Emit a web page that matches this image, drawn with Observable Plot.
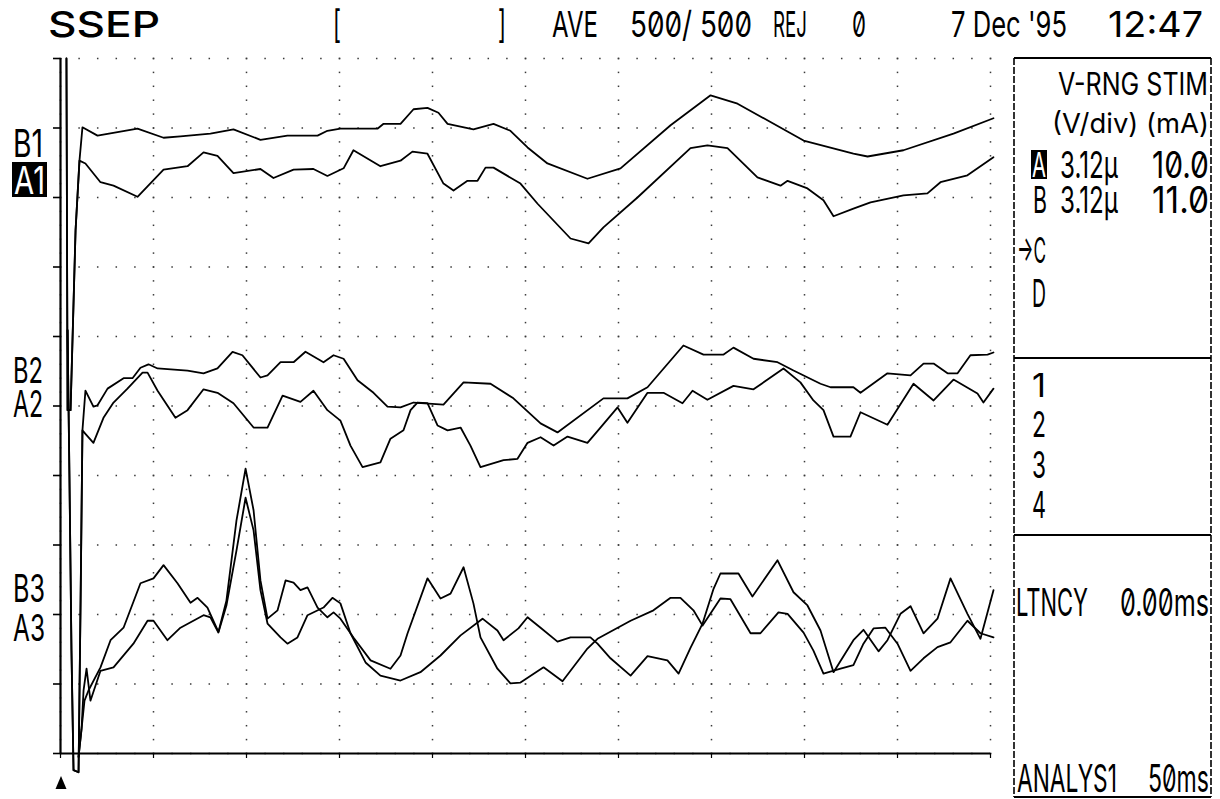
<!DOCTYPE html>
<html><head><meta charset="utf-8">
<script src="https://cdn.jsdelivr.net/npm/d3@7"></script>
<script src="https://cdn.jsdelivr.net/npm/@observablehq/plot@0.6"></script>
<style>
html,body{margin:0;padding:0;background:#fff;}
#chart{position:relative;width:1220px;height:799px;overflow:hidden;}
</style></head><body><div id="chart"></div>
<script>
// Time in ms (5 ms / division, 50 ms sweep); amplitude in display divisions (0 = bottom, 10 = top)
const stim1 = [[0.32,10.0],[0.38,4.94],[0.54,4.94],[0.81,7.53],[1.02,8.53]];
const B1 = [[1.18,9.01],[1.99,8.89],[4.14,8.99],[5.54,8.86],[6.45,8.88],[8.06,8.92],[9.30,8.98],[10.75,8.83],[12.20,8.89],[13.82,8.89],[14.35,8.96],[15.05,8.99],[17.04,8.99],[17.37,9.06],[18.28,9.06],[18.98,9.27],[19.73,9.29],[20.32,9.22],[20.81,9.06],[22.20,8.98],[23.28,9.06],[24.19,8.96],[25.11,8.72],[26.18,8.49],[28.33,8.27],[30.11,8.42],[32.80,9.04],[34.95,9.47],[36.40,9.35],[39.95,8.82],[42.63,8.63],[43.39,8.59],[45.32,8.68],[48.01,8.92],[50.16,9.14]];
const A1 = [[1.34,8.49],[2.15,8.22],[2.85,8.17],[4.14,8.01],[5.54,8.40],[6.83,8.45],[7.69,8.65],[8.44,8.60],[9.30,8.35],[10.75,8.41],[11.45,8.28],[12.53,8.40],[13.60,8.41],[14.35,8.31],[15.22,8.42],[15.75,8.68],[17.20,8.45],[18.28,8.53],[18.92,8.66],[19.73,8.63],[20.59,8.20],[21.13,8.10],[21.88,8.24],[22.42,8.24],[22.85,8.43],[23.28,8.43],[24.73,8.20],[25.65,7.91],[27.42,7.41],[28.39,7.34],[29.19,7.57],[31.02,8.00],[33.87,8.71],[34.78,8.75],[35.86,8.71],[37.47,8.29],[38.71,8.17],[39.09,8.24],[40.16,8.13],[41.02,7.96],[41.56,7.73],[42.63,7.84],[43.55,7.93],[45.32,8.03],[46.61,8.06],[47.31,8.22],[48.76,8.32],[50.16,8.58]];

const stim2 = [[0.38,6.09],[0.48,4.0],[0.59,1.48],[0.70,-0.24],[0.97,-0.27],[1.08,2.2],[1.18,4.65]];
const B2 = [[1.34,5.22],[1.77,4.99],[1.99,5.01],[2.53,5.25],[3.39,5.40],[3.87,5.40],[4.30,5.55],[4.73,5.60],[5.22,5.54],[6.83,5.51],[7.69,5.47],[8.44,5.54],[9.25,5.78],[9.78,5.73],[10.75,5.41],[11.13,5.44],[11.83,5.63],[12.53,5.63],[13.17,5.78],[14.14,5.63],[14.68,5.73],[15.22,5.68],[15.97,5.37],[16.83,5.19],[17.58,4.99],[18.28,4.98],[18.98,5.05],[20.59,5.02],[21.67,5.34],[23.12,5.32],[24.35,5.11],[25.81,4.75],[26.72,4.62],[29.19,5.11],[30.48,5.11],[31.56,5.27],[33.49,5.87],[34.57,5.74],[35.65,5.74],[36.18,5.84],[37.26,5.68],[38.55,5.63],[39.41,5.51],[40.86,5.32],[41.40,5.27],[42.63,5.27],[43.01,5.19],[44.46,5.47],[45.70,5.44],[46.40,5.61],[46.94,5.61],[47.69,5.47],[48.23,5.47],[48.92,5.73],[49.84,5.74],[50.16,5.77]];
const A2 = [[1.34,4.60],[1.77,4.47],[2.31,4.83],[2.85,5.05],[3.60,5.25],[4.41,5.48],[4.68,5.48],[5.22,5.22],[6.18,4.83],[6.83,4.94],[7.69,5.24],[8.44,5.19],[9.30,5.04],[10.38,4.69],[11.13,4.69],[11.94,5.15],[12.90,5.06],[13.60,5.22],[14.35,4.94],[15.05,4.79],[15.59,4.43],[16.24,4.12],[17.20,4.19],[17.74,4.53],[18.44,4.65],[18.82,4.94],[19.19,5.05],[19.73,5.04],[20.27,4.72],[20.81,4.65],[21.51,4.69],[22.04,4.43],[22.58,4.12],[23.82,4.22],[24.57,4.24],[25.11,4.47],[25.81,4.55],[26.51,4.43],[27.26,4.56],[28.33,4.47],[29.03,4.69],[29.95,4.98],[30.48,4.76],[31.56,5.19],[32.42,5.19],[33.44,5.04],[33.98,5.22],[34.78,5.09],[36.18,5.29],[37.26,5.24],[38.87,5.54],[39.78,5.34],[40.48,5.08],[41.02,4.94],[41.56,4.56],[42.47,4.56],[43.01,4.91],[44.46,4.73],[45.86,5.32],[46.94,5.08],[48.01,5.38],[49.30,5.18],[49.62,5.05],[50.16,5.25]];

const stim3 = [[0.97,-0.05],[1.13,0.35]];
const B3 = [[1.29,0.76],[1.51,0.91],[2.15,1.24],[2.69,1.63],[3.39,1.81],[4.30,2.45],[5.00,2.52],[5.54,2.71],[6.29,2.45],[6.99,2.17],[7.37,2.24],[7.90,2.10],[8.49,1.75],[8.92,2.20],[9.46,3.35],[9.95,4.10],[10.38,3.50],[10.75,2.49],[11.13,1.94],[11.67,2.06],[12.10,2.49],[12.53,2.46],[12.90,2.35],[13.28,2.39],[13.82,2.10],[14.35,1.96],[14.68,2.03],[15.05,1.94],[15.75,1.67],[16.67,1.34],[17.74,1.22],[18.28,1.41],[18.66,1.73],[19.73,2.52],[20.43,2.23],[20.97,2.30],[21.67,2.68],[22.20,2.16],[22.58,1.67],[23.49,1.22],[24.19,1.01],[24.73,1.02],[25.97,1.24],[26.99,1.04],[28.33,1.51],[28.87,1.65],[30.65,1.91],[31.88,2.06],[32.80,2.24],[33.33,2.24],[34.03,2.06],[34.52,1.84],[35.48,2.23],[36.02,2.22],[37.10,1.73],[37.63,1.73],[38.60,2.03],[39.09,2.01],[39.95,1.74],[40.48,1.48],[41.02,1.15],[41.94,1.22],[42.63,1.27],[43.17,1.58],[43.71,1.80],[44.35,1.81],[45.00,1.58],[45.70,1.19],[46.40,1.37],[47.15,1.53],[47.85,1.60],[48.76,1.91],[49.46,1.73],[50.16,1.67]];
const A3 = [[1.24,0.91],[1.40,1.22],[1.61,0.76],[2.15,1.19],[2.85,1.24],[3.92,1.58],[4.68,1.91],[5.00,1.91],[5.75,1.63],[6.45,1.81],[7.69,1.99],[8.06,1.96],[8.49,1.74],[8.92,2.13],[9.46,2.92],[9.95,3.68],[10.38,3.21],[10.75,2.35],[11.13,1.87],[11.83,1.67],[12.20,1.58],[12.74,1.67],[13.28,1.99],[14.14,2.10],[14.62,2.24],[15.05,2.16],[15.59,1.73],[16.40,1.31],[17.20,1.12],[18.28,1.05],[19.35,1.17],[20.43,1.41],[21.51,1.70],[22.69,1.94],[23.49,1.77],[23.82,1.63],[24.62,1.80],[25.11,1.96],[25.81,1.81],[26.72,1.61],[27.42,1.67],[28.49,1.67],[28.87,1.58],[29.57,1.37],[30.65,1.12],[31.56,1.40],[32.63,1.34],[33.23,1.15],[33.87,1.52],[34.52,1.87],[35.11,2.37],[35.48,2.59],[36.45,2.59],[37.20,2.26],[38.55,2.78],[39.41,2.32],[40.16,2.13],[40.86,1.77],[41.56,1.17],[42.63,1.63],[43.17,1.78],[43.98,1.47],[44.46,1.63],[45.16,2.01],[45.70,2.12],[46.40,1.73],[47.15,1.94],[47.85,2.52],[48.76,2.01],[49.46,1.65],[50.16,2.35]];

// Labels / panel texts
const header = ["SSEP", "[", "]", "AVE", "500/ 500", "REJ", "0", "7 Dec '95", "12:47"];
const channelLabels = ["B1", "A1", "B2", "A2", "B3", "A3"];
const panelHead = ["V-RNG STIM", "(V/div) (mA)"];
const panelRows = [["A", "3.12µ", "10.0"], ["B", "3.12µ", "11.0"]];
const panelChannels = ["→C", "D"];
const panelNumbers = ["1", "2", "3", "4"];
const panelLatency = ["LTNCY", "0.00ms"];
const panelAnalysis = ["ANALYS1", "50ms"];

const traces = [
  {name: "B1", pts: stim1.concat(B1)},
  {name: "A1", pts: stim1.concat(A1)},
  {name: "B2", pts: stim2.concat(B2)},
  {name: "A2", pts: stim2.concat(A2)},
  {name: "B3", pts: stim3.concat(B3)},
  {name: "A3", pts: stim3.concat(A3)}
];
const rows = traces.flatMap(tr => tr.pts.map(([t, v]) => ({name: tr.name, t, v})));

const divRows = d3.range(0, 11);          // horizontal division lines
const divCols = d3.range(0, 51, 5);       // vertical division lines (5 ms)
const msSteps = d3.range(0, 51, 1);       // dots every 1 ms along rows
const subDiv = d3.range(0, 51).map(i => i / 5); // dots every 0.2 div along columns
const hDots = divRows.flatMap(v => msSteps.map(t => ({t, v})));
const vDots = divCols.flatMap(t => subDiv.map(v => ({t, v})));

const plot = Plot.plot({
  width: 1220, height: 799,
  marginLeft: 60, marginRight: 230, marginTop: 58, marginBottom: 46,
  x: {domain: [0, 50], axis: null},
  y: {domain: [0, 10], axis: null},
  style: {background: "white", overflow: "visible"},
  marks: [
    Plot.dot(hDots, {x: "t", y: "v", symbol: "square", r: 0.85, fill: "#3a3a3a", stroke: null}),
    Plot.dot(vDots, {x: "t", y: "v", symbol: "square", r: 0.85, fill: "#3a3a3a", stroke: null}),
    Plot.ruleX([0], {stroke: "#000", strokeWidth: 2.2}),
    Plot.ruleY([0], {stroke: "#000", strokeWidth: 2.2}),
    Plot.axisY({ticks: divRows, tickSize: 7, tickFormat: () => "", label: null, anchor: "left", strokeWidth: 1.6}),
    Plot.axisX({ticks: divCols, tickSize: 5, tickFormat: () => "", label: null, anchor: "bottom", strokeWidth: 1.2}),
    Plot.line(rows, {x: "t", y: "v", z: "name", stroke: "#000", strokeWidth: 1.8, curve: "linear", strokeLinejoin: "round"})
  ]
});
document.getElementById("chart").appendChild(plot);

// ---- annotation text layout (printer-style condensed text) ----
const svg = d3.select(plot);
const ann = svg.append("g")
  .attr("font-family", "Inter, 'DejaVu Sans', sans-serif")
  .attr("text-anchor", "start")
  .style("font-feature-settings", '"zero" 1');
function label(str, x0, x1, top, base, o = {}) {
  const fs = (base - top) / 0.727;
  ann.append("text")
    .attr("x", x0).attr("y", base)
    .attr("text-anchor", "start")
    .attr("font-size", fs)
    .attr("textLength", x1 - x0).attr("lengthAdjust", "spacingAndGlyphs")
    .attr("fill", o.fill || "#000")
    .attr("font-weight", o.weight || 400)
    .text(str);
}
function box(x0, x1, y0, y1) {
  ann.append("rect").attr("x", x0).attr("y", y0).attr("width", x1 - x0).attr("height", y1 - y0).attr("fill", "#000");
}
function hline(x0, x1, y, dash) {
  ann.append("line").attr("x1", x0).attr("x2", x1).attr("y1", y).attr("y2", y)
    .attr("stroke", "#000").attr("stroke-width", 1.8).attr("stroke-dasharray", dash || null);
}
function vline(x, y0, y1, dash) {
  ann.append("line").attr("x1", x).attr("x2", x).attr("y1", y0).attr("y2", y1)
    .attr("stroke", "#000").attr("stroke-width", 1.6).attr("stroke-dasharray", dash || null);
}

// header
label(header[0], 48, 160, 11, 37, {weight: 500});
label(header[1], 333, 341, 10, 38);
label(header[2], 498, 506, 10, 38);
label(header[3], 552, 598, 11, 37);
label(header[4], 630, 752, 11, 37);
label(header[5], 773, 807, 11, 37);
label(header[6], 852, 866, 11, 37);
label(header[7], 951, 1067, 11, 37);
label(header[8], 1108, 1203, 11, 37);

// channel labels on the left
label(channelLabels[0], 13, 43, 129, 157);
box(12, 47, 162, 197);
label(channelLabels[1], 14, 45, 166, 194, {fill: "#fff"});
label(channelLabels[2], 13, 43, 357, 383);
label(channelLabels[3], 13, 43, 390, 417);
label(channelLabels[4], 13, 45, 574, 602);
label(channelLabels[5], 13, 45, 614, 641);

// stimulus marker
ann.append("path").attr("d", "M61,776 L66.5,789 L55.5,789 Z").attr("fill", "#000");

// right panel frame
hline(1014, 1211, 58);
hline(1014, 1211, 358);
hline(1014, 1211, 535);
hline(1014, 1211, 797);
vline(1014, 58, 797, "7,2");
vline(1211, 58, 797, "7,2");

// right panel texts
label(panelHead[0], 1058, 1208, 72, 95);
label(panelHead[1], 1052, 1209, 113, 133);
box(1031, 1047, 150, 179);
label(panelRows[0][0], 1032, 1046, 152, 177, {fill: "#fff"});
label(panelRows[0][1], 1060, 1118, 151, 178);
label(panelRows[0][2], 1152, 1209, 151, 178);
label(panelRows[1][0], 1033, 1047, 186, 213);
label(panelRows[1][1], 1060, 1118, 186, 213);
label(panelRows[1][2], 1152, 1209, 186, 213);
label(panelChannels[0], 1017, 1046, 237, 263);
label(panelChannels[1], 1032, 1046, 279, 307);
label(panelNumbers[0], 1032, 1046, 373, 397);
label(panelNumbers[1], 1032, 1046, 411, 437);
label(panelNumbers[2], 1032, 1046, 451, 478);
label(panelNumbers[3], 1032, 1046, 491, 518);
label(panelLatency[0], 1016, 1088, 588, 616);
label(panelLatency[1], 1120, 1209, 588, 616);
label(panelAnalysis[0], 1017, 1117, 764, 792);
label(panelAnalysis[1], 1148, 1209, 764, 792);
</script>
</body></html>
